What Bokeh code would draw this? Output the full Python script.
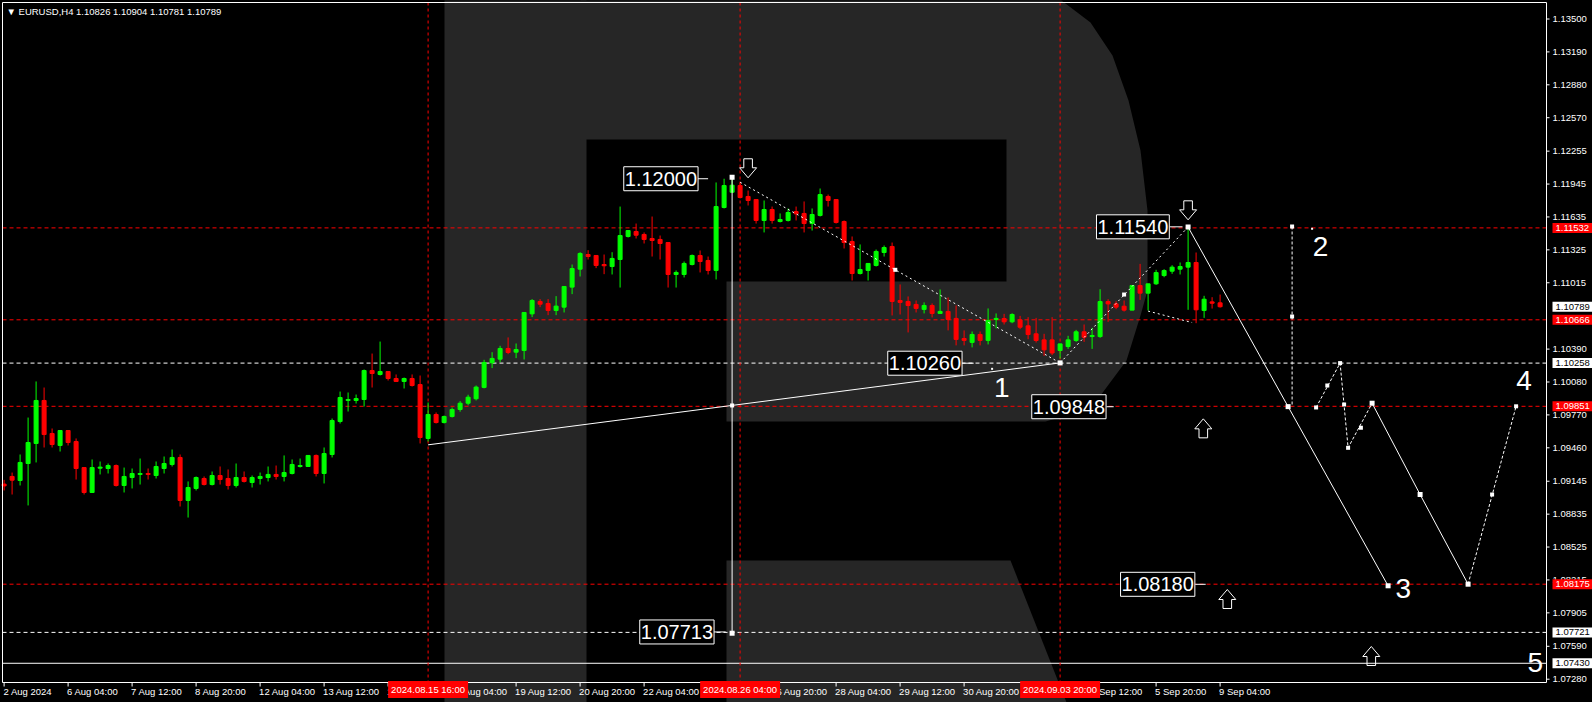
from bokeh.plotting import figure
from bokeh.models import Range1d, Label, ColumnDataSource
from bokeh.core.properties import value
from bokeh.embed import file_html
from bokeh.resources import INLINE

# ------------------------------------------------------------------ data
symbol = "EURUSD,H4"

open_ = [1.09118, 1.09190, 1.09152, 1.09312, 1.09501, 1.09906, 1.09595, 1.09482, 1.09623, 1.09519,
         1.09274, 1.09039, 1.09268, 1.09265, 1.09293, 1.09105, 1.09180, 1.09209, 1.09218, 1.09199,
         1.09265, 1.09303, 1.09369, 1.08964, 1.09077, 1.09171, 1.09114, 1.09199, 1.09171, 1.09105,
         1.09180, 1.09133, 1.09171, 1.09180, 1.09209, 1.09190, 1.09218, 1.09284, 1.09284, 1.09388,
         1.09218, 1.09397, 1.09708, 1.09906, 1.09906, 1.09915, 1.10188, 1.10151, 1.10179, 1.10113,
         1.10085, 1.10113, 1.10056, 1.09548, 1.09774, 1.09698, 1.09755, 1.09821, 1.09880, 1.09922,
         1.10029, 1.10261, 1.10295, 1.10396, 1.10361, 1.10377, 1.10722, 1.10839, 1.10820, 1.10754,
         1.10785, 1.10974, 1.11143, 1.11281, 1.11272, 1.11187, 1.11168, 1.11234, 1.11451, 1.11498,
         1.11470, 1.11432, 1.11423, 1.11394, 1.11093, 1.11093, 1.11187, 1.11272, 1.11225, 1.11131,
         1.11724, 1.11868, 1.11931, 1.11828, 1.11799, 1.11602, 1.11705, 1.11592, 1.11602, 1.11686,
         1.11668, 1.11573, 1.11649, 1.11828, 1.11799, 1.11592, 1.11404, 1.11102, 1.11131, 1.11178,
         1.11300, 1.11357, 1.10848, 1.10839, 1.10811, 1.10764, 1.10801, 1.10726, 1.10745, 1.10679,
         1.10490, 1.10453, 1.10528, 1.10472, 1.10669, 1.10678, 1.10647, 1.10666, 1.10609, 1.10534,
         1.10477, 1.10477, 1.10377, 1.10414, 1.10471, 1.10553, 1.10508, 1.10508, 1.10838, 1.10816,
         1.10794, 1.10757, 1.10989, 1.10917, 1.11005, 1.11083, 1.11124, 1.11143, 1.11162, 1.11206,
         1.10754, 1.10835, 1.10826]
high_ = [1.09158, 1.09227, 1.09397, 1.09745, 1.10085, 1.10028, 1.09642, 1.09623, 1.09623, 1.09548,
         1.09274, 1.09350, 1.09331, 1.09312, 1.09303, 1.09274, 1.09265, 1.09359, 1.09265, 1.09331,
         1.09378, 1.09444, 1.09397, 1.09143, 1.09190, 1.09190, 1.09237, 1.09284, 1.09256, 1.09312,
         1.09237, 1.09199, 1.09227, 1.09284, 1.09293, 1.09388, 1.09350, 1.09359, 1.09388, 1.09397,
         1.09463, 1.09736, 1.09990, 1.09981, 1.09962, 1.10198, 1.10348, 1.10461, 1.10179, 1.10151,
         1.10122, 1.10151, 1.10141, 1.09887, 1.09793, 1.09764, 1.09840, 1.09900, 1.09960, 1.10047,
         1.10289, 1.10361, 1.10421, 1.10500, 1.10443, 1.10735, 1.10861, 1.10861, 1.10861, 1.10889,
         1.10980, 1.11187, 1.11303, 1.11322, 1.11272, 1.11281, 1.11303, 1.11733, 1.11507, 1.11573,
         1.11489, 1.11639, 1.11460, 1.11394, 1.11131, 1.11215, 1.11281, 1.11319, 1.11262, 1.11960,
         1.11995, 1.12000, 1.11969, 1.11884, 1.11799, 1.11790, 1.11733, 1.11668, 1.11715, 1.11733,
         1.11781, 1.11715, 1.11903, 1.11846, 1.11799, 1.11602, 1.11451, 1.11376, 1.11197, 1.11328,
         1.11366, 1.11394, 1.10999, 1.10886, 1.10848, 1.10830, 1.10820, 1.10952, 1.10877, 1.10801,
         1.10566, 1.10556, 1.10556, 1.10773, 1.10726, 1.10722, 1.10728, 1.10703, 1.10691, 1.10684,
         1.10534, 1.10691, 1.10439, 1.10515, 1.10571, 1.10622, 1.10590, 1.10954, 1.10860, 1.10841,
         1.10848, 1.10989, 1.11193, 1.11005, 1.11137, 1.11143, 1.11180, 1.11206, 1.11540, 1.11300,
         1.10892, 1.10879, 1.10904]
low_ = [1.09058, 1.09020, 1.09105, 1.08917, 1.09322, 1.09463, 1.09463, 1.09425, 1.09482, 1.09161,
        1.09020, 1.09039, 1.09209, 1.09218, 1.09095, 1.09039, 1.09077, 1.09114, 1.09161, 1.09171,
        1.09218, 1.09284, 1.08907, 1.08803, 1.09058, 1.09105, 1.09105, 1.09114, 1.09067, 1.09086,
        1.09133, 1.09086, 1.09114, 1.09143, 1.09161, 1.09143, 1.09209, 1.09274, 1.09284, 1.09190,
        1.09124, 1.09369, 1.09689, 1.09802, 1.09877, 1.09849, 1.10028, 1.10141, 1.10094, 1.10085,
        1.10019, 1.10037, 1.09501, 1.09519, 1.09689, 1.09689, 1.09745, 1.09800, 1.09860, 1.09906,
        1.10020, 1.10211, 1.10267, 1.10342, 1.10305, 1.10292, 1.10691, 1.10785, 1.10710, 1.10710,
        1.10735, 1.10908, 1.11074, 1.11234, 1.11153, 1.11096, 1.11093, 1.10970, 1.11441, 1.11432,
        1.11385, 1.11262, 1.11234, 1.10970, 1.10970, 1.11065, 1.11178, 1.11112, 1.11093, 1.11046,
        1.11715, 1.11865, 1.11809, 1.11743, 1.11573, 1.11489, 1.11573, 1.11583, 1.11592, 1.11602,
        1.11489, 1.11507, 1.11639, 1.11733, 1.11573, 1.11338, 1.11036, 1.11093, 1.11036, 1.11168,
        1.11262, 1.10707, 1.10716, 1.10547, 1.10735, 1.10726, 1.10688, 1.10726, 1.10566, 1.10425,
        1.10425, 1.10406, 1.10425, 1.10434, 1.10585, 1.10622, 1.10634, 1.10578, 1.10483, 1.10452,
        1.10326, 1.10333, 1.10300, 1.10392, 1.10458, 1.10458, 1.10392, 1.10496, 1.10647, 1.10766,
        1.10744, 1.10757, 1.10854, 1.10754, 1.10995, 1.11067, 1.11099, 1.11093, 1.10760, 1.10634,
        1.10684, 1.10772, 1.10781]
close_ = [1.09101, 1.09155, 1.09322, 1.09510, 1.09906, 1.09585, 1.09491, 1.09623, 1.09510, 1.09265,
          1.09039, 1.09274, 1.09278, 1.09293, 1.09105, 1.09190, 1.09218, 1.09218, 1.09209, 1.09284,
          1.09312, 1.09369, 1.08964, 1.09086, 1.09180, 1.09114, 1.09199, 1.09161, 1.09105, 1.09180,
          1.09143, 1.09180, 1.09190, 1.09209, 1.09190, 1.09227, 1.09303, 1.09293, 1.09388, 1.09218,
          1.09406, 1.09717, 1.09934, 1.09915, 1.09924, 1.10188, 1.10160, 1.10179, 1.10113, 1.10085,
          1.10113, 1.10047, 1.09557, 1.09774, 1.09698, 1.09755, 1.09821, 1.09880, 1.09937, 1.10032,
          1.10264, 1.10302, 1.10396, 1.10358, 1.10386, 1.10735, 1.10848, 1.10813, 1.10754, 1.10795,
          1.10980, 1.11149, 1.11291, 1.11262, 1.11178, 1.11175, 1.11244, 1.11460, 1.11507, 1.11463,
          1.11423, 1.11413, 1.11385, 1.11093, 1.11112, 1.11197, 1.11272, 1.11215, 1.11131, 1.11733,
          1.11931, 1.11934, 1.11818, 1.11790, 1.11602, 1.11705, 1.11602, 1.11611, 1.11677, 1.11664,
          1.11573, 1.11658, 1.11846, 1.11790, 1.11583, 1.11394, 1.11102, 1.11140, 1.11197, 1.11310,
          1.11347, 1.10839, 1.10830, 1.10801, 1.10773, 1.10801, 1.10726, 1.10745, 1.10669, 1.10481,
          1.10472, 1.10528, 1.10472, 1.10660, 1.10679, 1.10647, 1.10716, 1.10596, 1.10527, 1.10471,
          1.10383, 1.10353, 1.10439, 1.10477, 1.10553, 1.10502, 1.10518, 1.10838, 1.10816, 1.10785,
          1.10757, 1.10989, 1.10917, 1.11005, 1.11111, 1.11130, 1.11162, 1.11168, 1.11206, 1.10760,
          1.10860, 1.10822, 1.10789]

time_tick_bars = [0, 8, 16, 24, 32, 40, 48, 56, 64, 72, 80, 88, 96, 104, 112, 120, 128, 136, 144, 152]
time_tick_labels = ["2 Aug 2024", "6 Aug 04:00", "7 Aug 12:00", "8 Aug 20:00", "12 Aug 04:00",
                    "13 Aug 12:00", "14 Aug 20:00", "16 Aug 04:00", "19 Aug 12:00", "20 Aug 20:00",
                    "22 Aug 04:00", "23 Aug 12:00", "26 Aug 20:00", "28 Aug 04:00", "29 Aug 12:00",
                    "30 Aug 20:00", "3 Sep 04:00", "4 Sep 12:00", "5 Sep 20:00", "9 Sep 04:00"]
marked_bars = [53, 92, 132]
marked_labels = ["2024.08.15 16:00", "2024.08.26 04:00", "2024.09.03 20:00"]

price_ticks = [1.13500, 1.13190, 1.12880, 1.12570, 1.12255, 1.11945, 1.11635, 1.11325, 1.11015,
               1.10390, 1.10080, 1.09770, 1.09460, 1.09145, 1.08835, 1.08525, 1.08215, 1.07905,
               1.07590, 1.07280]

level_prices = [1.11532, 1.10789, 1.10666, 1.10258, 1.09851, 1.08175, 1.07721, 1.07430]
level_box_bg = ["#ff0000", "#ffffff", "#ff0000", "#ffffff", "#ff0000", "#ff0000", "#ffffff", "#ffffff"]
level_box_fg = ["#ffffff", "#000000", "#ffffff", "#000000", "#ffffff", "#ffffff", "#000000", "#000000"]
red_dash_levels = [1.11532, 1.10666, 1.09851, 1.08175]
white_dash_levels = [1.10258, 1.07721]
white_solid_levels = [1.07430]

# analysis / forecast objects (bar index, price)
trend_x, trend_y = [53, 132], [1.09488, 1.10260]
range_x, range_y = [91, 91], [1.12010, 1.07713]
dot1_x, dot1_y = [92, 132], [1.11962, 1.10260]
dot2_x, dot2_y = [132, 148], [1.10260, 1.11540]
dot3_x, dot3_y = [143, 148.5], [1.10748, 1.10640]
fc1_x, fc1_y = [148, 160.5, 173], [1.11540, 1.09848, 1.08160]
fc2_x, fc2_y = [171, 177, 183], [1.09880, 1.09020, 1.08175]
fcv_x, fcv_y = [161, 161], [1.11545, 1.09848]
fcz_x, fcz_y = [164, 167, 168, 171], [1.09840, 1.10258, 1.09460, 1.09880]
fcu_x, fcu_y = [183, 189], [1.08175, 1.09851]

big_pt_x = [91, 91, 132, 148, 160.5, 173, 171, 177, 183]
big_pt_y = [1.12010, 1.07713, 1.10260, 1.11540, 1.09848, 1.08160, 1.09880, 1.09020, 1.08175]
small_pt_x = [91, 111.4, 140, 161, 161, 164, 165.4, 167, 167.5, 168, 169.6, 186, 189]
small_pt_y = [1.09859, 1.11137, 1.10904, 1.11545, 1.10697, 1.09840, 1.10047, 1.10258, 1.09868,
              1.09460, 1.09649, 1.09020, 1.09851]
dot_x, dot_y = [123.5, 163.5], [1.10204, 1.11523]

box_texts = ["1.12000", "1.07713", "1.10260", "1.09848", "1.11540", "1.08180"]
box_x = [82.1, 84.1, 115.1, 133.1, 141.1, 144.2]
box_y = [1.11995, 1.07725, 1.10257, 1.09847, 1.11542, 1.08174]
conn_x0 = [86.7, 88.7, 119.7, 137.8, 145.7, 148.9]
conn_x1 = [88.0, 90.2, 121.2, 138.7, 147.3, 150.2]

wave_texts = ["1", "2", "3", "4", "5"]
wave_x = [124.7, 164.55, 174.9, 190.0, 191.4]
wave_y = [1.10031, 1.11357, 1.08134, 1.10094, 1.07436]

arrow_down_x, arrow_down_tip = [93.0, 148.0], [1.12004, 1.11608]
arrow_up_x, arrow_up_tip = [149.9, 152.9, 170.9], [1.09733, 1.08125, 1.07588]

# ------------------------------------------------------------------ layout
FONT = "Liberation Sans"
SMALL = "9.5px"
W, H = 1592, 702
CL, CT, CR, CB = 2, 2, 1546, 682           # chart window border (px)
BAR0_PX, BAR_PX = 3.6, 8.0                 # x of bar 0, px per bar
REF_PX, REF_PRICE, PX_PER_PRICE = 18.5, 1.135, 10614.0


def bx(px):
    return (px - BAR0_PX) / BAR_PX


def py(px):
    return REF_PRICE - (px - REF_PX) / PX_PER_PRICE


DX = 1.0 / BAR_PX
DY = 1.0 / PX_PER_PRICE
GREEN, RED, WM = "#00ff00", "#ff0000", "#262626"

p = figure(width=W, height=H, x_range=Range1d(bx(0), bx(W)), y_range=Range1d(py(H), py(0)),
           output_backend="svg", toolbar_location=None,
           x_axis_location=None, y_axis_location=None, min_border=0,
           background_fill_color="black", border_fill_color="black", outline_line_color=None)
p.grid.visible = False

try:
    from bokeh.models import GlobalInlineStyleSheet
    p.stylesheets = [GlobalInlineStyleSheet(css="html, body { background-color: #000000; }")]
except Exception:
    pass

# ---- watermark "R" (px geometry)
wm_stem = [(444, -5), (586, -5), (586, H + 5), (444, H + 5)]
wm_bowl = [(580, -5), (1059, -5), (1061, 0), (1090, 22), (1112, 55), (1128, 100), (1140, 150),
           (1147, 210), (1147, 290), (1140, 315), (1126, 360), (1100, 395), (1070, 414),
           (1045, 421), (726, 421), (726, 281), (1006, 281), (1006, 139), (580, 139)]
wm_leg = [(726, 560), (1010, 560), (1068, H + 5), (726, H + 5)]
polys = [wm_stem, wm_bowl, wm_leg]
p.patches(xs=[[bx(a) for a, b in poly] for poly in polys],
          ys=[[py(b) for a, b in poly] for poly in polys],
          fill_color=WM, line_color=None, level="underlay")

# ---- level lines (inside the chart window)
for levels, col, dash in [(red_dash_levels, RED, "4 3"), (white_dash_levels, "white", "4 3"),
                          (white_solid_levels, "white", "solid")]:
    p.segment(x0=[bx(CL)] * len(levels), y0=levels, x1=[bx(CR)] * len(levels), y1=levels,
              line_color=col, line_width=1, line_dash=dash, level="underlay")
p.segment(x0=marked_bars, y0=[py(CT)] * 3, x1=marked_bars, y1=[py(CB)] * 3,
          line_color=RED, line_width=1, line_dash="3 3", level="underlay")

# ---- candles
bars = list(range(len(open_)))
colors = [GREEN if c >= o else RED for o, c in zip(open_, close_)]
src = ColumnDataSource(dict(x=bars, o=open_, h=high_, l=low_, c=close_,
                            top=[max(o, c) for o, c in zip(open_, close_)],
                            bottom=[min(o, c) for o, c in zip(open_, close_)],
                            color=colors))
p.segment(x0="x", y0="l", x1="x", y1="h", line_color="color", line_width=1, source=src)
p.vbar(x="x", width=4 * DX, top="top", bottom="bottom", fill_color="color",
       line_color="color", line_width=1, source=src)

# ---- analysis lines
p.line(trend_x, trend_y, line_color="white", line_width=1)
p.line(range_x, range_y, line_color="white", line_width=1)
for xs_, ys_ in [(dot1_x, dot1_y), (dot2_x, dot2_y), (dot3_x, dot3_y)]:
    p.line(xs_, ys_, line_color="white", line_width=1, line_dash="2 3")
p.line(fc1_x, fc1_y, line_color="white", line_width=1)
p.line(fc2_x, fc2_y, line_color="white", line_width=1)
for xs_, ys_ in [(fcv_x, fcv_y), (fcz_x, fcz_y), (fcu_x, fcu_y)]:
    p.line(xs_, ys_, line_color="white", line_width=1, line_dash="3 2")
p.segment(x0=conn_x0, y0=box_y, x1=conn_x1, y1=box_y, line_color="white", line_width=1)
p.scatter(big_pt_x, big_pt_y, marker="square", size=5, fill_color="white", line_color=None)
p.scatter(small_pt_x, small_pt_y, marker="square", size=4, fill_color="white", line_color=None)
p.scatter(dot_x, dot_y, marker="square", size=2, fill_color="white", line_color=None)

# ---- hollow arrows
shape_up = [(0, 0), (8.5, 10), (4.3, 10), (4.3, 19), (-4.3, 19), (-4.3, 10), (-8.5, 10)]
axs, ays = [], []
for x, t in zip(arrow_up_x, arrow_up_tip):
    axs.append([x + dx * DX for dx, dy in shape_up])
    ays.append([t - dy * DY for dx, dy in shape_up])
for x, t in zip(arrow_down_x, arrow_down_tip):
    axs.append([x + dx * DX for dx, dy in shape_up])
    ays.append([t + dy * DY for dx, dy in shape_up])
p.patches(axs, ays, fill_color=None, line_color="white", line_width=1)

# ---- chart window border
p.line([bx(CL), bx(CR), bx(CR), bx(CL), bx(CL)], [py(CT), py(CT), py(CB), py(CB), py(CT)],
       line_color="white", line_width=1)

# ---- price scale (right)
p.segment(x0=[bx(CR)] * len(price_ticks), y0=price_ticks, x1=[bx(CR + 3)] * len(price_ticks),
          y1=price_ticks, line_color="white", line_width=1)
p.text(x=[bx(CR + 6)] * len(price_ticks), y=price_ticks, text=[f"{t:.5f}" for t in price_ticks],
       text_align="left", text_baseline="middle", text_color="white",
       text_font=value(FONT), text_font_size=value(SMALL))

# ---- time scale (bottom)
p.segment(x0=time_tick_bars, y0=[py(CB)] * len(time_tick_bars), x1=time_tick_bars,
          y1=[py(CB + 4)] * len(time_tick_bars), line_color="white", line_width=1)
p.text(x=[max(b - DX, bx(CL + 1)) for b in time_tick_bars], y=[py(CB + 8.5)] * len(time_tick_bars),
       text=time_tick_labels, text_align="left", text_baseline="middle", text_color="white",
       text_font=value(FONT), text_font_size=value(SMALL))

for b, t in zip(marked_bars, marked_labels):
    p.add_layout(Label(x=b, y=py(CB + 7), text=t, text_align="center", text_baseline="middle",
                       text_color="white", text_font=FONT, text_font_size=SMALL,
                       background_fill_color=RED, background_fill_alpha=1.0,
                       padding=dict(left=3, right=3, top=3, bottom=3)))

# ---- price boxes on the price scale
for pr, bg, fg in zip(level_prices, level_box_bg, level_box_fg):
    p.add_layout(Label(x=bx(CR + 6), y=pr, text=f"{pr:.5f}", text_align="left",
                       text_baseline="middle", text_color=fg, text_font=FONT,
                       text_font_size=SMALL, background_fill_color=bg, background_fill_alpha=1.0,
                       padding=dict(left=3, right=3, top=2, bottom=2)))

# ---- in-chart price boxes
for t, x, y in zip(box_texts, box_x, box_y):
    p.add_layout(Label(x=x, y=y, text=t, text_align="center", text_baseline="middle",
                       text_color="white", text_font=FONT, text_font_size="20px",
                       background_fill_color="black", background_fill_alpha=1.0,
                       border_line_color="white", border_line_width=1,
                       padding=dict(left=1, right=1, top=5, bottom=5)))

for t, x, y in zip(wave_texts, wave_x, wave_y):
    p.add_layout(Label(x=x, y=y, text=t, text_align="center", text_baseline="middle",
                       text_color="white", text_font=FONT, text_font_size="28px"))

# ---- title line
title = "\u25bc {}  {:.5f} {:.5f} {:.5f} {:.5f}".format(symbol, open_[-1], high_[-1],
                                                        low_[-1], close_[-1])
p.add_layout(Label(x=bx(6), y=py(10.5), text=title, text_align="left", text_baseline="middle",
                   text_color="white", text_font=FONT, text_font_size=SMALL))

open("out.html", "w").write(file_html(p, INLINE))
